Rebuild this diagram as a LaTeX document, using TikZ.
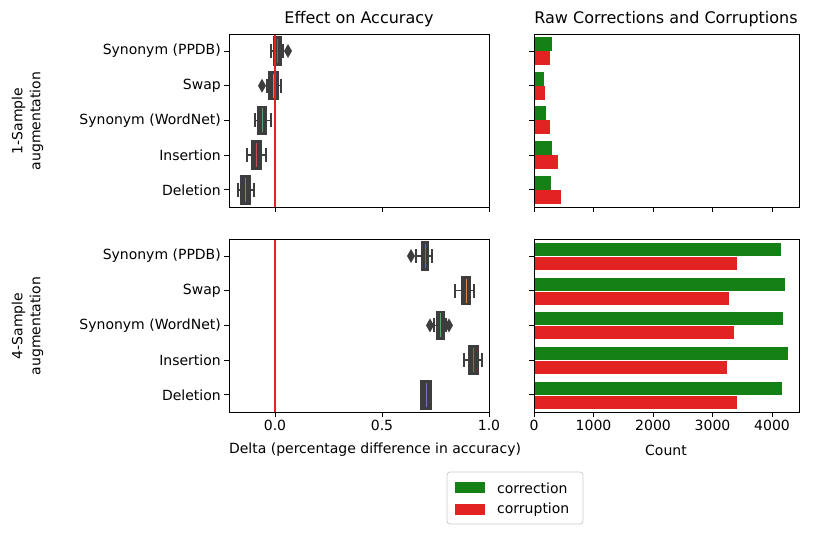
\documentclass[tikz,border=0pt]{standalone}
\usepackage{fontspec}
\setmainfont{DejaVu Sans}
\begin{document}
\begin{tikzpicture}[x=1pt,y=-1pt,
  axisframe/.style={draw=black,line width=0.9pt},
  tk/.style={line width=0.8pt},
  lab/.style={font=\fontsize{14}{17}\selectfont,inner sep=0pt},
  ttl/.style={font=\fontsize{16}{19}\selectfont,inner sep=0pt},
  wh/.style={draw=bpgray,line width=1.5pt},
  bx/.style={draw=bpgray,line width=1.5pt},
]
\definecolor{bpgray}{RGB}{61,61,61}
\definecolor{cA}{RGB}{76,114,176}
\definecolor{cB}{RGB}{221,132,82}
\definecolor{cC}{RGB}{85,168,104}
\definecolor{cD}{RGB}{196,78,82}
\definecolor{cE}{RGB}{129,114,179}
\definecolor{grn}{RGB}{21,128,21}
\definecolor{rd}{RGB}{227,34,34}
\useasboundingbox (0,0) rectangle (830,536);
\newcommand{\bp}[7]{% y, wlo, blo, bhi, whi, color, fliers
  \draw[wh] (#2,#1) -- (#3,#1) (#4,#1) -- (#5,#1);
  \draw[wh] (#2,#1-7) -- (#2,#1+7) (#5,#1-7) -- (#5,#1+7);
  \filldraw[bx,fill=bpgray] (#3,#1-14) rectangle (#4,#1+14);
  \draw[#6,line width=1pt] ({(#3+#4)/2},#1-12) -- ({(#3+#4)/2},#1+12);
  \foreach \f in {#7} {\fill[bpgray] (\f-4,#1) -- (\f,#1-7) -- (\f+4,#1) -- (\f,#1+7) -- cycle;}
}
% titles
\node[ttl] (t1) at (359,19) {Effect on Accuracy};
\node[ttl] (t2) at (666,19) {Raw Corrections and Corruptions};
% ylabels
\node[lab,rotate=90] (yl1) at (28,121) {\begin{tabular}{c}1-Sample\\[1pt]augmentation\end{tabular}};
\node[lab,rotate=90] (yl2) at (28,326) {\begin{tabular}{c}4-Sample\\[1pt]augmentation\end{tabular}};
% category labels
\foreach \yy/\t in {0/{Synonym (PPDB)},34.7/Swap,69.4/{Synonym (WordNet)},104.1/Insertion,138.8/Deletion}{
  \node[lab,anchor=east] at (221,51+\yy) {\t};
  \node[lab,anchor=east] at (221,256+\yy) {\t};
  \draw[tk] (229,51+\yy) -- (224,51+\yy) (229,256+\yy) -- (224,256+\yy);
  \draw[tk] (534,51+\yy) -- (529,51+\yy) (534,256+\yy) -- (529,256+\yy);
}
% x ticks
\foreach \x in {275,382,489}{\draw[tk] (\x,207) -- (\x,212) (\x,412) -- (\x,417);}
\node[lab,anchor=north] at (275,420) {0.0};
\node[lab,anchor=north] at (382,420) {0.5};
\node[lab,anchor=north] at (489,420) {1.0};
\foreach \i in {0,...,4}{\draw[tk] (534+59.5*\i,207) -- (534+59.5*\i,212) (534+59.5*\i,412) -- (534+59.5*\i,417);
  \node[lab,anchor=north] at (534+59.5*\i,420) {\pgfmathparse{int(1000*\i)}\pgfmathresult};}
\node[lab] (xl1) at (375,450) {Delta (percentage difference in accuracy)};
\node[lab] (xl2) at (666,450) {Count};
% top boxplots
\bp{51}{271}{274}{281}{283}{cA}{288}
\bp{85.7}{267}{269}{278}{281}{cB}{262}
\bp{120.4}{255}{258}{266}{271}{cC}{}
\bp{155.1}{247}{252}{261}{266}{cD}{}
\bp{189.8}{238}{241}{250}{254}{cE}{}
% bottom
\bp{256}{416}{422}{428}{432}{cA}{411}
\bp{290.7}{455}{462}{470}{474}{cB}{}
\bp{325.4}{434}{437}{444}{446}{cC}{{430},{449}}
\bp{360.1}{464}{469}{478}{482}{cD}{}
\bp{394.8}{421}{421}{431}{431}{cE}{}
\draw[rd,line width=1.5pt] (275,34) -- (275,207) (275,239) -- (275,412);
% bars
\foreach \yy/\g/\r in {0/552/550,34.7/544/545,69.4/546/550,104.1/552/558,138.8/551/561}{
  \fill[grn] (534,51+\yy-14) rectangle (\g,51+\yy);
  \fill[rd] (534,51+\yy) rectangle (\r,51+\yy+14);}
\foreach \yy/\g/\r in {0/781/737,34.7/785/729,69.4/783/734,104.1/788/727,138.8/782/737}{
  \filldraw[grn,draw=white,line width=0.4pt] (534,256+\yy-14) rectangle (\g,256+\yy);
  \filldraw[rd,draw=white,line width=0.4pt] (534,256+\yy) rectangle (\r,256+\yy+14);}
% frames
\draw[axisframe] (229,34) rectangle (489,207);
\draw[axisframe] (534,34) rectangle (799,207);
\draw[axisframe] (229,239) rectangle (489,412);
\draw[axisframe] (534,239) rectangle (799,412);
% legend
\draw[rounded corners=3pt,draw=black!20,line width=0.8pt,fill=white] (447,472) rectangle (583,524);
\fill[grn] (455,482) rectangle (485,493);
\fill[rd] (455,504) rectangle (485,515);
\node[lab,anchor=west] (lg1) at (497,488) {correction};
\node[lab,anchor=west] (lg2) at (497,510) {corruption};
\end{tikzpicture}
\end{document}
